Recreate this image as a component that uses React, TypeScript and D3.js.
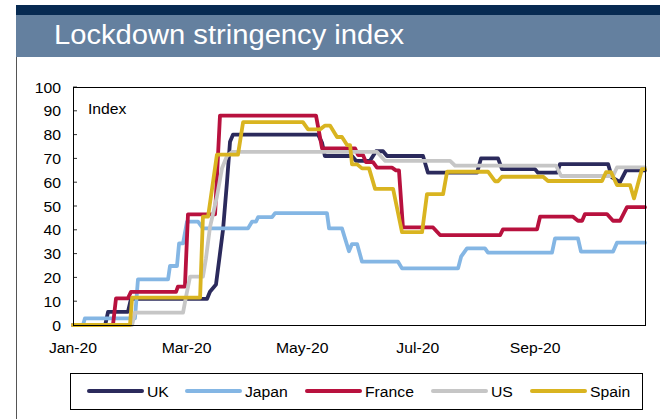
import React from "react";
import * as d3 from "d3";

const seriesNames = ["UK", "Japan", "France", "US", "Spain"];
const seriesColors = ["#2b2a5c", "#84b6e4", "#b8113e", "#c6c6c6", "#d9b420"];

// day offsets from 1 Jan 2020
const ukDays = [0,17,18.5,29,30.6,70.8,72.3,75.5,77.6,79.2,81.3,82.9,84.5,129.4,131.5,133,147.3,149.4,156.8,160,163.7,165.8,184.8,187.4,213.3,215.4,224.4,226.5,243.9,245.5,255.6,257.1,282.5,284.6,288.8,292,302];
const ukValues = [0,0,5.5,5.5,11,11,14,17,30,40,60,77,80,80,76.5,71,71,69,69,73,73,71,71,64,64,70,70,65.5,65.5,64,64,67.6,67.6,62,60,65,65];

const japanDays = [0,5.3,6.3,32.7,34.3,50.2,51.2,54.9,56,58.1,60.2,66,68.6,92.4,94.5,96.6,97.7,105.1,106.7,134.1,135.2,142,145.7,147.3,150,152.6,171.6,173.7,203.3,204.9,208,217.5,219.1,252.9,254.5,266.6,268.2,285.1,287.2,302];
const japanValues = [0,0,2.8,2.8,19.2,19.2,24.8,24.8,34.3,34.3,43.4,43.4,40.6,40.6,43.4,43.4,45.3,45.3,47,47,40.6,40.6,31,34,34,26.6,26.6,23.8,23.8,28.7,32.2,32.2,30.4,30.4,36.4,36.4,30.8,30.8,34.6,34.6];

const franceDays = [0,21.1,22.7,29,30.6,54.4,55.4,59.1,60.7,75,77.6,128.3,131.5,148.9,150.5,153.1,154.7,158.4,160.5,168.4,170.5,172.1,174.2,190.1,193.8,225.5,227,245,246.6,264,266.6,268.8,270.3,281.9,285.1,288.8,292.5,302];
const franceValues = [0,0,11.2,11.2,13.9,13.9,16.1,16.1,46.5,46.5,88,88,74.2,74.2,71.4,71.4,68.4,68.4,66.1,66.1,65,65,41,41,37.8,37.8,40.2,40.2,45.5,45.5,43.8,43.8,46.6,46.6,43.8,43.8,49.5,49.5];

const usDays = [0,31.2,32.7,58.1,59.7,61.8,68.6,70.2,72.3,76,78.7,81.3,84,160.5,164.7,199.1,201.7,255,257.7,285.1,287.2,302];
const usValues = [0,0,5.2,5.2,12,20.3,20.3,28,41,54,66,71,72.7,72.7,69,69,67,67,62.6,62.6,66.2,66.2];

const spainDays = [0,30.1,31.2,67.1,68.6,71.3,76,87.1,89.8,121.4,124.1,130.4,133.1,135.7,139.4,142,144.7,146.3,147.3,150,152.6,156.3,159.5,169,173.7,184.3,186.9,195.4,197.5,219.1,222.8,224.4,226.5,248.2,250.8,279.3,281.4,284.1,287.2,294.1,296.2,300.4,302];
const spainValues = [0,0,11.5,11.5,45.5,45.5,71.6,71.6,85.2,85.2,82.2,82.2,83.8,83.8,79,79,75.6,75.6,67.5,67.5,65.8,65.8,57.2,57.2,39,39,55,55,64.4,64.4,60.4,60.4,62.3,62.3,60.5,60.5,64.2,64.2,58.8,58.8,53.2,65.5,65.5];

const allDays = [ukDays, japanDays, franceDays, usDays, spainDays];
const allValues = [ukValues, japanValues, franceValues, usValues, spainValues];

const yTicks = [0, 10, 20, 30, 40, 50, 60, 70, 80, 90, 100];
const xTickDates = ["2020-01-01", "2020-03-01", "2020-05-01", "2020-07-01", "2020-09-01"];
const xTickLabels = ["Jan-20", "Mar-20", "May-20", "Jul-20", "Sep-20"];

const title = "Lockdown stringency index";
const yUnit = "Index";

const W = 660, H = 419;
const PL = 73, PR = 645, PT = 87, PB = 325;
const FONT = "'Liberation Sans', Arial, sans-serif";

const start = new Date(2020, 0, 1).getTime();
const dayToDate = (d: number) => new Date(start + d * 86400000);

function T({ x, y, anchor = "start", size = 15, sx = 1.05, fill = "#000", children }: any) {
  return (
    <text
      transform={`translate(${x},${y}) scale(${sx},1)`}
      textAnchor={anchor}
      fontSize={size}
      fill={fill}
      fontFamily={FONT}
    >
      {children}
    </text>
  );
}

export default function App() {
  const x = d3.scaleTime().domain([dayToDate(0), dayToDate(302)]).range([PL, PR]);
  const y = d3.scaleLinear().domain([0, 100]).range([PB, PT]);
  const line = d3
    .line<[number, number]>()
    .x((p) => x(dayToDate(p[0])))
    .y((p) => y(p[1]));

  const legendX = [89, 187, 307, 433, 532];
  const legendW = 53;

  return (
    <svg width={W} height={H} style={{ position: "absolute", left: 0, top: 0 }}>
      <rect x={0} y={0} width={W} height={H} fill="#fff" />
      <rect x={16} y={5} width={W - 16} height={10} fill="#072a52" />
      <rect x={16} y={15} width={W - 16} height={42} fill="#64809f" />
      <T x={54} y={44} size={27} sx={1.08} fill="#fff">{title}</T>
      <line x1={16.5} y1={57} x2={16.5} y2={H} stroke="#555" strokeWidth={1} />

      {yTicks.map((t) => (
        <g key={t}>
          <line x1={PL} x2={PL + 4} y1={y(t)} y2={y(t)} stroke="#333" strokeWidth={1} />
          <T x={61} y={y(t) + 5.5} anchor="end">{t}</T>
        </g>
      ))}
      {xTickDates.map((d, i) => (
        <T key={d} x={x(new Date(d + "T00:00:00"))} y={353} anchor="middle">
          {xTickLabels[i]}
        </T>
      ))}
      <T x={88} y={114}>{yUnit}</T>

      {allDays.map((days, i) => (
        <path
          key={seriesNames[i]}
          d={line(days.map((d, j) => [d, allValues[i][j]] as [number, number])) || ""}
          fill="none"
          stroke={seriesColors[i]}
          strokeWidth={3.8}
          strokeLinejoin="round"
          strokeLinecap="round"
        />
      ))}

      <rect x={PL + 0.5} y={PT + 0.5} width={PR - PL} height={PB - PT} fill="none" stroke="#000" strokeWidth={1} />

      <rect x={70.5} y={373.5} width={572} height={36} fill="#fff" stroke="#000" strokeWidth={1} />
      {seriesNames.map((n, i) => (
        <g key={n}>
          <line
            x1={legendX[i]}
            x2={legendX[i] + legendW}
            y1={391}
            y2={391}
            stroke={seriesColors[i]}
            strokeWidth={4}
            strokeLinecap="round"
          />
          <T x={legendX[i] + legendW + 5} y={396.5}>{n}</T>
        </g>
      ))}
    </svg>
  );
}
